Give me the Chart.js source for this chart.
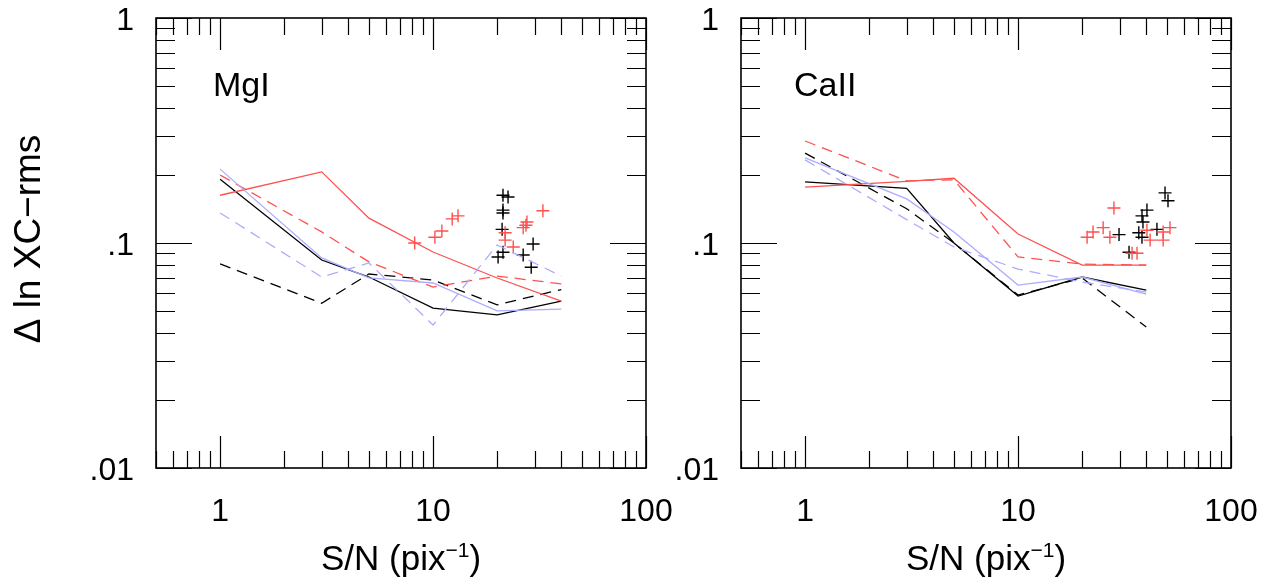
<!DOCTYPE html>
<html>
<head>
<meta charset="utf-8">
<script src="https://cdn.jsdelivr.net/npm/chart.js@4.4.1/dist/chart.umd.min.js"></script>
<style>
  html, body { margin: 0; padding: 0; background: #fff; }
  body { width: 1277px; height: 583px; position: relative; overflow: hidden; }
  canvas { position: absolute; top: 0; }
  #mgChart { left: 0; }
  #caChart { left: 660px; }
</style>
</head>
<body>
<canvas id="mgChart" width="680" height="583"></canvas>
<canvas id="caChart" width="617" height="583"></canvas>
<script>
// S/N grid of the simulated curves
const snGrid = [1, 3, 5, 10, 20, 40];

// MgI panel curves
const mgBlackSolid = [0.192, 0.084, 0.0706, 0.0514, 0.0479, 0.0552];
const mgBlackDash  = [0.0807, 0.054, 0.0728, 0.0685, 0.0531, 0.0621];
const mgRedSolid   = [0.163, 0.207, 0.129, 0.0912, 0.0699, 0.0552];
const mgRedDash    = [0.2005, 0.112, 0.0824, 0.0637, 0.0713, 0.0658];
const mgBlueSolid  = [0.213, 0.0858, 0.070, 0.0664, 0.0499, 0.0508];
const mgBlueDash   = [0.136, 0.0706, 0.0815, 0.0432, 0.098, 0.0713];

// MgI panel measurements
const mgRedPtsX   = [8.2, 10.2, 11.0, 12.3, 13.1, 21.8, 21.8, 23.8, 26.5, 27.3, 27.6, 32.8];
const mgRedPtsY   = [0.100, 0.106, 0.113, 0.128, 0.132, 0.111, 0.103, 0.096, 0.117, 0.120, 0.124, 0.139];
const mgBlackPtsX = [21.3, 22.5, 21.3, 21.3, 21.1, 21.3, 20.2, 29.5, 26.5, 28.9];
const mgBlackPtsY = [0.163, 0.160, 0.140, 0.136, 0.115, 0.091, 0.0867, 0.099, 0.0885, 0.078];

// CaII panel curves
const caBlackSolid = [0.187, 0.175, 0.100, 0.0581, 0.0706, 0.0618];
const caBlackDash  = [0.251, 0.142, 0.100, 0.0587, 0.0699, 0.0423];
const caRedSolid   = [0.177, 0.188, 0.194, 0.1096, 0.0798, 0.0798];
const caRedDash    = [0.284, 0.189, 0.191, 0.0867, 0.0806, 0.0798];
const caBlueSolid  = [0.239, 0.157, 0.112, 0.065, 0.0706, 0.0593];
const caBlueDash   = [0.234, 0.127, 0.096, 0.0766, 0.0671, 0.0605];

// CaII panel measurements
const caRedPtsX   = [28.2, 21.1, 22.5, 25.1, 27.0, 36.2, 34.3, 40.3, 41.7, 48.0, 48.0, 51.7];
const caRedPtsY   = [0.143, 0.106, 0.112, 0.117, 0.106, 0.090, 0.090, 0.114, 0.103, 0.112, 0.103, 0.117];
const caBlackPtsX = [49.0, 50.6, 40.3, 38.2, 38.6, 36.9, 38.2, 44.9, 29.8, 33.2];
const caBlackPtsY = [0.167, 0.154, 0.140, 0.132, 0.124, 0.111, 0.106, 0.115, 0.109, 0.091];

// axes
const xTickVals = [0.5, 0.6, 0.7, 0.8, 0.9, 1, 2, 3, 4, 5, 6, 7, 8, 9, 10,
                   20, 30, 40, 50, 60, 70, 80, 90, 100];
const xMajor = [1, 10, 100];
const xTickLabels = ['1', '10', '100'];
const yTickVals = [0.01, 0.02, 0.03, 0.04, 0.05, 0.06, 0.07, 0.08, 0.09, 0.1,
                   0.2, 0.3, 0.4, 0.5, 0.6, 0.7, 0.8, 0.9, 1];
const yMajor = [0.01, 0.1, 1];
const yTickLabels = ['.01', '.1', '1'];

const RED = '#ff5050';
const BLUE = '#acacff';
const FONT = '"Liberation Sans", Arial, Helvetica, sans-serif';

function curve(ys, color, dashed) {
  return {
    data: snGrid.map((x, i) => ({ x: x, y: ys[i] })),
    showLine: true,
    borderColor: color,
    borderWidth: 1.3,
    borderDash: dashed ? [11, 7] : [],
    pointRadius: 0,
    tension: 0,
    fill: false
  };
}

function points(xs, ys, color) {
  return {
    data: xs.map((x, i) => ({ x: x, y: ys[i] })),
    showLine: false,
    pointStyle: 'cross',
    pointRadius: 6.5,
    pointBorderWidth: 1.4,
    borderColor: color,
    backgroundColor: color
  };
}

// scale labels must not push the plot box around
function noPad(s) {
  s.paddingLeft = 0; s.paddingRight = 0;
  s.paddingTop = 0; s.paddingBottom = 0;
}

// frame, inward ticks and text drawn over the chart area
const framePlugin = {
  id: 'frame',
  afterDraw(chart, args, opts) {
    const { ctx, chartArea: a, scales } = chart;
    ctx.save();
    ctx.strokeStyle = '#000';
    ctx.lineWidth = 1.2;
    ctx.beginPath();
    scales.x.ticks.forEach(t => {
      const px = Math.round(scales.x.getPixelForValue(t.value)) + 0.5;
      const len = xMajor.includes(t.value) ? 32 : 17;
      ctx.moveTo(px, a.bottom); ctx.lineTo(px, a.bottom - len);
      ctx.moveTo(px, a.top); ctx.lineTo(px, a.top + len);
    });
    scales.y.ticks.forEach(t => {
      const py = Math.round(scales.y.getPixelForValue(t.value)) + 0.5;
      const len = yMajor.includes(t.value) ? 36 : 19;
      ctx.moveTo(a.left, py); ctx.lineTo(a.left + len, py);
      ctx.moveTo(a.right, py); ctx.lineTo(a.right - len, py);
    });
    ctx.stroke();
    ctx.lineWidth = 1.6;
    ctx.strokeRect(a.left, a.top, a.right - a.left, a.bottom - a.top);

    ctx.fillStyle = '#000';
    ctx.textBaseline = 'alphabetic';
    ctx.textAlign = 'left';
    ctx.font = '34px ' + FONT;
    ctx.fillText(opts.label, a.left + opts.labelDx, 96);

    // x title with superscript
    const p1 = 'S/N (pix', sup = '\u22121', p2 = ')';
    ctx.font = '35px ' + FONT;
    const w1 = ctx.measureText(p1).width, w3 = ctx.measureText(p2).width;
    ctx.font = '21px ' + FONT;
    const w2 = ctx.measureText(sup).width;
    const x0 = (a.left + a.right) / 2 - (w1 + w2 + w3) / 2;
    ctx.font = '35px ' + FONT;
    ctx.fillText(p1, x0, 570);
    ctx.font = '21px ' + FONT;
    ctx.fillText(sup, x0 + w1, 557);
    ctx.font = '35px ' + FONT;
    ctx.fillText(p2, x0 + w1 + w2, 570);

    if (opts.yTitle) {
      ctx.font = '37px ' + FONT;
      ctx.translate(30, 239);
      ctx.rotate(-Math.PI / 2);
      ctx.textAlign = 'center';
      ctx.textBaseline = 'middle';
      ctx.fillText(opts.yTitle, 0, 0);
    }
    ctx.restore();
  }
};

function makeChart(id, curves, redX, redY, blackX, blackY, yWidth, padRight, label, labelDx, yTitle) {
  const datasets = [
    curve(curves[4], BLUE, false),
    curve(curves[5], BLUE, true),
    curve(curves[2], RED, false),
    curve(curves[3], RED, true),
    curve(curves[0], '#000', false),
    curve(curves[1], '#000', true),
    points(redX, redY, RED),
    points(blackX, blackY, '#000')
  ];
  return new Chart(document.getElementById(id), {
    type: 'scatter',
    data: { datasets: datasets },
    plugins: [framePlugin],
    options: {
      responsive: false,
      animation: false,
      events: [],
      layout: { padding: { left: 0, top: 18, right: padRight, bottom: 0 } },
      plugins: {
        legend: { display: false },
        tooltip: { enabled: false },
        frame: { label: label, labelDx: labelDx, yTitle: yTitle }
      },
      scales: {
        x: {
          type: 'logarithmic',
          min: 0.5, max: 100,
          grid: { display: false, drawTicks: false },
          border: { display: false },
          afterBuildTicks: s => { s.ticks = xTickVals.map(v => ({ value: v })); },
          afterFit: s => { s.height = 115; noPad(s); },
          ticks: {
            autoSkip: false, maxRotation: 0, padding: 28,
            color: '#000',
            font: { family: FONT, size: 32, lineHeight: 1 },
            callback: v => { const i = xMajor.indexOf(v); return i >= 0 ? xTickLabels[i] : ''; }
          }
        },
        y: {
          type: 'logarithmic',
          min: 0.01, max: 1,
          grid: { display: false, drawTicks: false },
          border: { display: false },
          afterBuildTicks: s => { s.ticks = yTickVals.map(v => ({ value: v })); },
          afterFit: s => { s.width = yWidth; noPad(s); },
          ticks: {
            autoSkip: false, padding: 22, labelOffset: 3,
            color: '#000',
            font: { family: FONT, size: 32, lineHeight: 1 },
            callback: v => { const i = yMajor.indexOf(v); return i >= 0 ? yTickLabels[i] : ''; }
          }
        }
      }
    }
  });
}

makeChart('mgChart',
  [mgBlackSolid, mgBlackDash, mgRedSolid, mgRedDash, mgBlueSolid, mgBlueDash],
  mgRedPtsX, mgRedPtsY, mgBlackPtsX, mgBlackPtsY,
  156, 34, 'MgI', 57, '\u0394 ln XC\u2212rms');

makeChart('caChart',
  [caBlackSolid, caBlackDash, caRedSolid, caRedDash, caBlueSolid, caBlueDash],
  caRedPtsX, caRedPtsY, caBlackPtsX, caBlackPtsY,
  81, 46, 'CaII', 53, null);
</script>
</body>
</html>
